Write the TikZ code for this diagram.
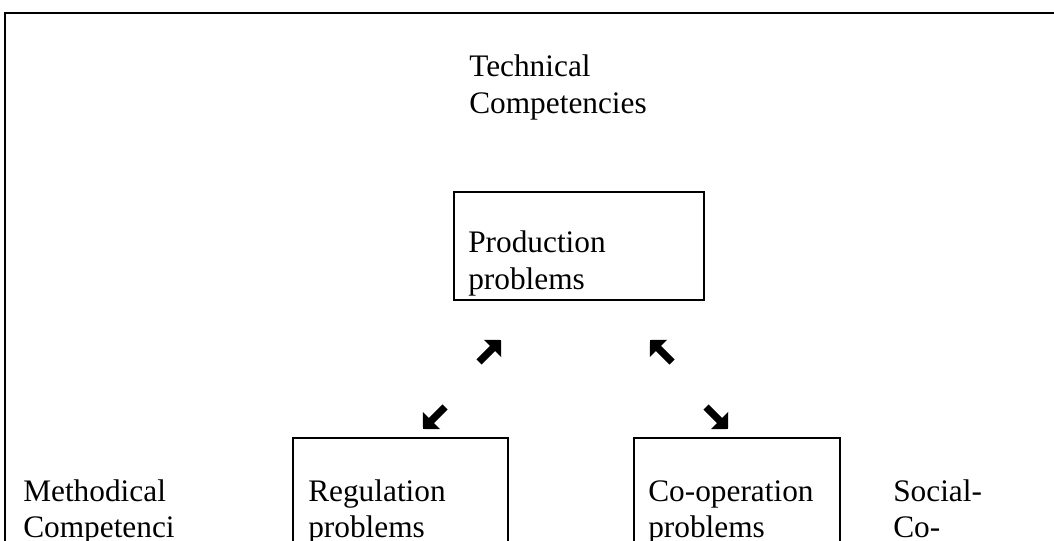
\documentclass[tikz,border=0pt]{standalone}
\usepackage{fontspec}
\setmainfont{Liberation Serif}
\usepackage{tikz}
\usetikzlibrary{arrows.meta,positioning}

\begin{document}
\begin{tikzpicture}[
  x=0.75pt, y=-0.75pt,
  txt/.style={anchor=base west, inner sep=0pt, align=left, font=\fontsize{23.5}{27.75}\selectfont},
  pbox/.style={draw=black, line width=1.5pt, anchor=north west, inner sep=0pt},
  bigarr/.style={-{Triangle[length=9pt, width=18pt]}, line width=5.5pt}]
\useasboundingbox (0,0) rectangle (1054,541);
\clip (0,0) rectangle (1054,541);
% outer frame
\draw[line width=1.5pt] (5,560) -- (5,13) -- (1070,13);
% competencies
\node[txt] (tech) at (469,114) {Technical\\Competencies};
\node[txt] (meth) at (23,538) {Methodical\\Competenci};
\node[txt] (soc) at (893,538) {Social-\\Co-};
% problem boxes
\node[pbox, minimum width=187.5pt, minimum height=81pt] (prod) at (453,191) {};
\node[pbox, minimum width=161.25pt, minimum height=112.5pt] (reg) at (292,437) {};
\node[pbox, minimum width=154.5pt, minimum height=112.5pt] (coop) at (633,437) {};
\node[txt] (prodt) at (468,290) {Production\\problems};
\node[txt] (regt) at (308,538) {Regulation\\problems};
\node[txt] (coopt) at (648,538) {Co-operation\\problems};
% arrows
\coordinate (a1s) at (479,362); \coordinate (a1e) at (501,340);
\coordinate (a2s) at (672,362); \coordinate (a2e) at (650,340);
\coordinate (a3s) at (445,407); \coordinate (a3e) at (423,429);
\coordinate (a4s) at (706,407); \coordinate (a4e) at (728,429);
\draw[bigarr] (a1s) -- (a1e);
\draw[bigarr] (a2s) -- (a2e);
\draw[bigarr] (a3s) -- (a3e);
\draw[bigarr] (a4s) -- (a4e);
\end{tikzpicture}
\end{document}
